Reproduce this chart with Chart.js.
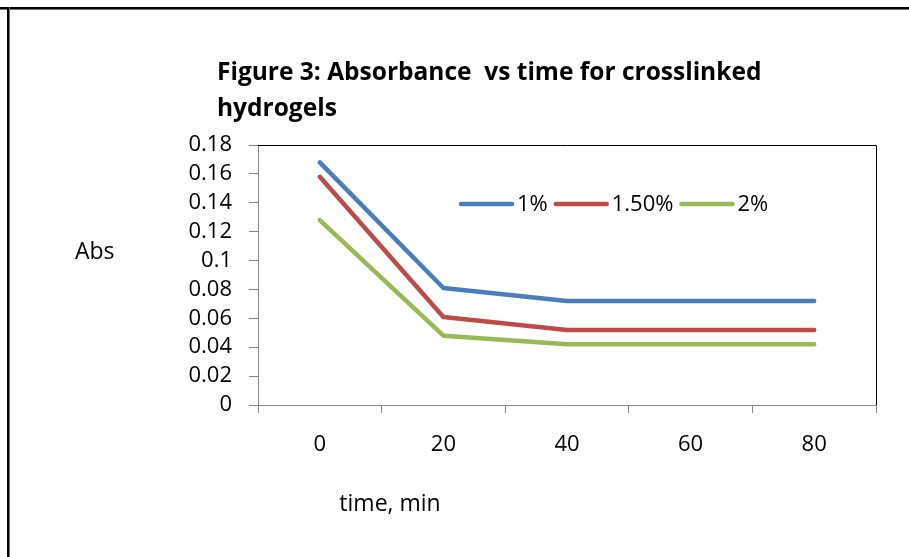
<!DOCTYPE html>
<html>
<head>
<meta charset="utf-8">
<script src="https://cdn.jsdelivr.net/npm/chart.js@4"></script>
<style>
  body { margin: 0; background: #fff; }
  #wrap { position: relative; width: 909px; height: 557px; overflow: hidden; }
  #frameTop { position: absolute; left: 0; top: 7px; width: 909px; height: 2px; background: #000; border-bottom: 1px solid #777; }
  #frameLeft { position: absolute; left: 7px; top: 7px; width: 2px; height: 560px; background: #000; border-right: 1px solid #777; }
  canvas { position: absolute; left: 0; top: 0; }
</style>
</head>
<body>
<div id="wrap">
  <canvas id="absChart" width="909" height="557"></canvas>
  <div id="frameTop"></div>
  <div id="frameLeft"></div>
</div>
<script>
const timeLabels = ["0", "20", "40", "60", "80"];
const seriesNames = ["1%", "1.50%", "2%"];
const abs1 = [0.168, 0.081, 0.072, 0.072, 0.072];
const abs15 = [0.158, 0.061, 0.052, 0.052, 0.052];
const abs2 = [0.128, 0.048, 0.042, 0.042, 0.042];
const seriesColors = ["#4A7EBB", "#BE4B48", "#98B954"];

const FONT = "'Open Sans', sans-serif";

// titles, axis captions and the in-plot legend
const textPlugin = {
  id: "extraText",
  afterDraw(chart) {
    const ctx = chart.ctx;
    const area = chart.chartArea;
    ctx.save();

    // plot area border (top and right are black like Excel)
    ctx.strokeStyle = "#000";
    ctx.lineWidth = 1;
    ctx.beginPath();
    ctx.moveTo(area.left, area.top + 0.5);
    ctx.lineTo(area.right + 0.5, area.top + 0.5);
    ctx.lineTo(area.right + 0.5, area.bottom);
    ctx.stroke();

    ctx.fillStyle = "#000";
    ctx.textBaseline = "alphabetic";
    ctx.textAlign = "left";
    ctx.font = "bold 24.5px " + FONT;
    ctx.fillText("Figure 3: Absorbance  vs time for crosslinked", 217, 80);
    ctx.fillText("hydrogels", 217, 116);

    ctx.font = "23px " + FONT;
    ctx.fillText("Abs", 75, 259);
    ctx.textAlign = "center";
    ctx.fillText("time, min", 390, 511);

    // legend
    ctx.font = "22px " + FONT;
    ctx.textAlign = "left";
    ctx.textBaseline = "middle";
    let x = 461;
    const y = 204;
    chart.data.datasets.forEach((ds) => {
      ctx.strokeStyle = ds.borderColor;
      ctx.lineWidth = 4.5;
      ctx.lineCap = "round";
      ctx.beginPath();
      ctx.moveTo(x, y);
      ctx.lineTo(x + 51, y);
      ctx.stroke();
      x += 56;
      ctx.fillStyle = "#000";
      ctx.fillText(ds.label, x, y + 1);
      x += ctx.measureText(ds.label).width + 8;
    });
    ctx.restore();
  },
};

const ctx = document.getElementById("absChart").getContext("2d");
const absChart = new Chart(ctx, {
  type: "line",
  data: {
    labels: timeLabels,
    datasets: [abs1, abs15, abs2].map((vals, i) => ({
      label: seriesNames[i],
      data: vals,
      borderColor: seriesColors[i],
      backgroundColor: seriesColors[i],
      borderWidth: 4.5,
      borderCapStyle: "round",
      borderJoinStyle: "round",
      pointRadius: 0,
      tension: 0,
    })),
  },
  options: {
    responsive: false,
    animation: false,
    layout: {
      padding: { left: 168, top: 145, right: 33, bottom: 0 },
    },
    plugins: {
      legend: { display: false },
      tooltip: { enabled: false },
    },
    scales: {
      x: {
        type: "category",
        offset: true,
        afterFit: (s) => { s.height = 152; },
        grid: {
          offset: true,
          drawOnChartArea: false,
          tickLength: 8,
          color: "#888",
        },
        border: { color: "#888", width: 1 },
        ticks: {
          color: "#000",
          padding: 19,
          autoSkip: false,
          maxRotation: 0,
          font: { family: FONT, size: 22 },
        },
      },
      y: {
        min: 0,
        max: 0.18,
        afterFit: (s) => { s.width = 90; },
        grid: {
          drawOnChartArea: false,
          tickLength: 9,
          color: "#888",
        },
        border: { color: "#888", width: 1 },
        ticks: {
          stepSize: 0.02,
          autoSkip: false,
          color: "#000",
          padding: 17,
          font: { family: FONT, size: 22 },
          callback: (v) => String(Number(v.toFixed(2))),
        },
      },
    },
  },
  plugins: [textPlugin],
});
</script>
</body>
</html>
